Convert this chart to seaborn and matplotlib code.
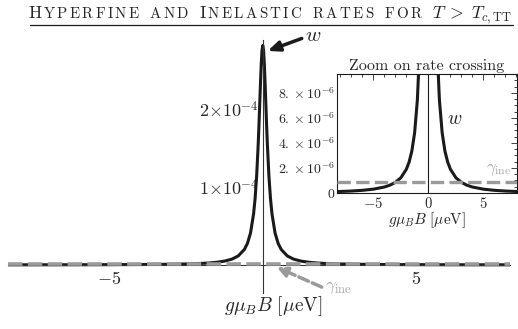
import numpy as np
import pandas as pd
import seaborn as sns
import matplotlib.pyplot as plt
from matplotlib.ticker import FixedLocator, FixedFormatter
from matplotlib.lines import Line2D

# hyperfine rate w vs field
field = [-8.3, -7.0, -6.0, -5.0, -4.0, -3.5, -3.0, -2.5, -2.0, -1.75, -1.5, -1.25,
         -1.0, -0.8, -0.6, -0.5, -0.4, -0.3, -0.25, -0.2, -0.15, -0.125, -0.1,
         -0.075, -0.05, -0.025, 0.0, 0.025, 0.05, 0.075, 0.1, 0.125, 0.15, 0.2,
         0.25, 0.3, 0.4, 0.5, 0.6, 0.8, 1.0, 1.25, 1.5, 1.75, 2.0, 2.5, 3.0, 3.5,
         4.0, 5.0, 6.0, 7.0, 8.05]
rate_w = [0.111e-6, 0.156e-6, 0.212e-6, 0.305e-6, 0.477e-6, 0.623e-6, 0.847e-6,
          1.217e-6, 1.898e-6, 2.474e-6, 3.36e-6, 4.81e-6,
          7.44e-6, 11.46e-6, 19.74e-6, 27.57e-6, 40.8e-6, 65.2e-6, 85.2e-6,
          113.7e-6, 153.8e-6, 178.5e-6, 205.5e-6,
          232.8e-6, 257.4e-6, 274.7e-6, 281.0e-6, 274.7e-6, 257.4e-6, 232.8e-6,
          205.5e-6, 178.5e-6, 153.8e-6, 113.7e-6,
          85.2e-6, 65.2e-6, 40.8e-6, 27.57e-6, 19.74e-6, 11.46e-6, 7.44e-6,
          4.81e-6, 3.36e-6, 2.474e-6, 1.898e-6, 1.217e-6, 0.847e-6, 0.623e-6,
          0.477e-6, 0.305e-6, 0.212e-6, 0.156e-6, 0.118e-6]
gamma_ine = 0.9e-6

main_xticks = [-5, 5]
main_xlabels = [r"$-5$", r"$5$"]
main_yticks = [1e-4, 2e-4]
main_ylabels = [r"$1{\times}10^{-4}$", r"$2{\times}10^{-4}$"]
zoom_xticks = [-5, 0, 5]
zoom_xlabels = [r"$-5$", r"$0$", r"$5$"]
zoom_yticks = [0, 2e-6, 4e-6, 6e-6, 8e-6]
zoom_ylabels = [r"$0$", r"$2.\times10^{-6}$", r"$4.\times10^{-6}$",
                r"$6.\times10^{-6}$", r"$8.\times10^{-6}$"]
title_words = ["Hyperfine", "and", "Inelastic", "rates", "for"]
title_math = r"$T\;>\;T_{c,\mathrm{TT}}$"

sns.set_style("white")
plt.rcParams["font.family"] = ["cmr10", "DejaVu Serif"]
plt.rcParams["mathtext.fontset"] = "cm"
plt.rcParams["axes.unicode_minus"] = False

W, H = 518, 329
black = "#1a1a1a"
gray = "#9a9a9a"
df = pd.DataFrame({"B": field, "w": rate_w})

fig = plt.figure(figsize=(W / 100, H / 100), dpi=100)

# main plot, Mathematica-like axes through the origin
ax = fig.add_axes([0.0154, 0.1094, 0.969, 0.769])
sns.lineplot(data=df, x="B", y="w", ax=ax, color=black, lw=2.2, zorder=2)
ax.axhline(gamma_ine, color=gray, lw=2.6, dashes=(4, 1.5), zorder=3)
ax.set_xlim(-8.3, 8.05)
ax.set_ylim(-0.36e-4, 2.88e-4)
ax.set_xlabel("")
ax.set_ylabel("")
for s in ["top", "right"]:
    ax.spines[s].set_visible(False)
for s in ["left", "bottom"]:
    ax.spines[s].set_position(("data", 0))
    ax.spines[s].set_color("#333333")
    ax.spines[s].set_linewidth(0.8)
ax.xaxis.set_major_locator(FixedLocator(main_xticks))
ax.xaxis.set_major_formatter(FixedFormatter(main_xlabels))
ax.yaxis.set_major_locator(FixedLocator(main_yticks))
ax.yaxis.set_major_formatter(FixedFormatter(main_ylabels))
ax.xaxis.set_minor_locator(FixedLocator([-8, -7, -6, -4, -3, -2, -1, 1, 2, 3, 4, 6, 7, 8]))
ax.yaxis.set_minor_locator(FixedLocator([0.5e-4, 1.5e-4, 2.5e-4]))
ax.tick_params(which="both", direction="in", color="#333333", width=0.7)
ax.tick_params(which="major", length=5)
ax.tick_params(which="minor", length=2.5)
ax.tick_params(axis="x", labelsize=13, pad=4)
ax.tick_params(axis="y", labelsize=13, pad=3)

ax.annotate("", xy=(0.16, 2.74e-4), xytext=(1.27, 2.9e-4), annotation_clip=False,
            arrowprops=dict(arrowstyle="-|>,head_length=0.7,head_width=0.3",
                            color=black, lw=2.5, shrinkA=0, shrinkB=0))
ax.text(1.37, 2.93e-4, r"$w$", fontsize=15, ha="left", va="center", clip_on=False)
ax.annotate("", xy=(0.46, -0.03e-4), xytext=(1.92, -0.284e-4), annotation_clip=False,
            arrowprops=dict(arrowstyle="-|>,head_length=0.6,head_width=0.3",
                            color=gray, lw=2.5, linestyle=(0, (3, 1.2)),
                            shrinkA=0, shrinkB=0))
ax.text(2.02, -0.297e-4, r"$\gamma_{\mathrm{ine}}$", fontsize=13, color="#a8a8a8",
        ha="left", va="center", clip_on=False)
fig.text(273 / W, 1 - 306 / H, r"$g\mu_B B\ [\mu\mathrm{eV}]$", fontsize=14,
         ha="center", va="center")

# inset zoom on the crossing
axz = fig.add_axes([0.6506, 0.4134, 0.3475, 0.3617])
sns.lineplot(data=df, x="B", y="w", ax=axz, color=black, lw=2.2, zorder=2)
axz.axhline(gamma_ine, color=gray, lw=2.4, dashes=(4, 1.6), zorder=3)
axz.axvline(0, color=black, lw=0.8, zorder=1)
axz.set_xlim(-8.3, 8.05)
axz.set_ylim(0, 9.5e-6)
axz.xaxis.set_major_locator(FixedLocator(zoom_xticks))
axz.xaxis.set_major_formatter(FixedFormatter(zoom_xlabels))
axz.yaxis.set_major_locator(FixedLocator(zoom_yticks))
axz.yaxis.set_major_formatter(FixedFormatter(zoom_ylabels))
axz.xaxis.set_minor_locator(FixedLocator([-8, -7, -6, -4, -3, -2, -1, 1, 2, 3, 4, 6, 7, 8]))
axz.yaxis.set_minor_locator(FixedLocator([i * 0.5e-6 for i in range(1, 20) if i % 4]))
axz.tick_params(which="both", direction="in", top=True, right=True, width=0.6)
axz.tick_params(which="major", length=4)
axz.tick_params(which="minor", length=2)
axz.tick_params(axis="x", labelsize=10.5, pad=2)
axz.tick_params(axis="y", labelsize=10, pad=1.5)
for s in axz.spines.values():
    s.set_color(black)
    s.set_linewidth(0.8)
axz.set_title("Zoom on rate crossing", fontsize=11.5, pad=3)
axz.set_xlabel(r"$g\mu_B B\ [\mu\mathrm{eV}]$", fontsize=11, labelpad=0)
axz.set_ylabel("")
axz.text(2.36, 5.9e-6, r"$w$", fontsize=14, ha="center", va="center")
axz.text(5.2, 1.84e-6, r"$\gamma_{\mathrm{ine}}$", fontsize=12, color="#a8a8a8",
         ha="left", va="center", clip_on=False)

# small caps title: capital initials big, the rest as small capitals,
# spaced out so it runs from x=28 to x=512 like the original
renderer = fig.canvas.get_renderer()
big, small, word_gap = 12.8, 10.8, 11
x_left, x_right, base = 28, 512, 1 - 18.5 / H
tokens = []  # [text artist, tracked after, word gap after]
for word in title_words:
    for ci, ch in enumerate(word):
        size = big if ch.isupper() else small
        t = fig.text(0, base, ch.upper(), fontsize=size, ha="left", va="baseline")
        tokens.append([t, ci < len(word) - 1, False])
    tokens[-1][2] = True
tokens.append([fig.text(0, base, title_math, fontsize=big, ha="left",
                        va="baseline"), False, False])
widths = [t.get_window_extent(renderer).width for t, _, _ in tokens]
n_track = sum(1 for _, tr, _ in tokens if tr)
n_gap = sum(1 for _, _, g in tokens if g)
track = (x_right - x_left - sum(widths) - n_gap * word_gap) / n_track
x = x_left
for (t, tr, g), wd in zip(tokens, widths):
    t.set_x(x / W)
    x += wd + (track if tr else 0) + (word_gap if g else 0)
fig.add_artist(Line2D([30 / W, 513 / W], [1 - 25 / H, 1 - 25 / H], color=black, lw=0.9))

fig.savefig("out.png", dpi=100)
